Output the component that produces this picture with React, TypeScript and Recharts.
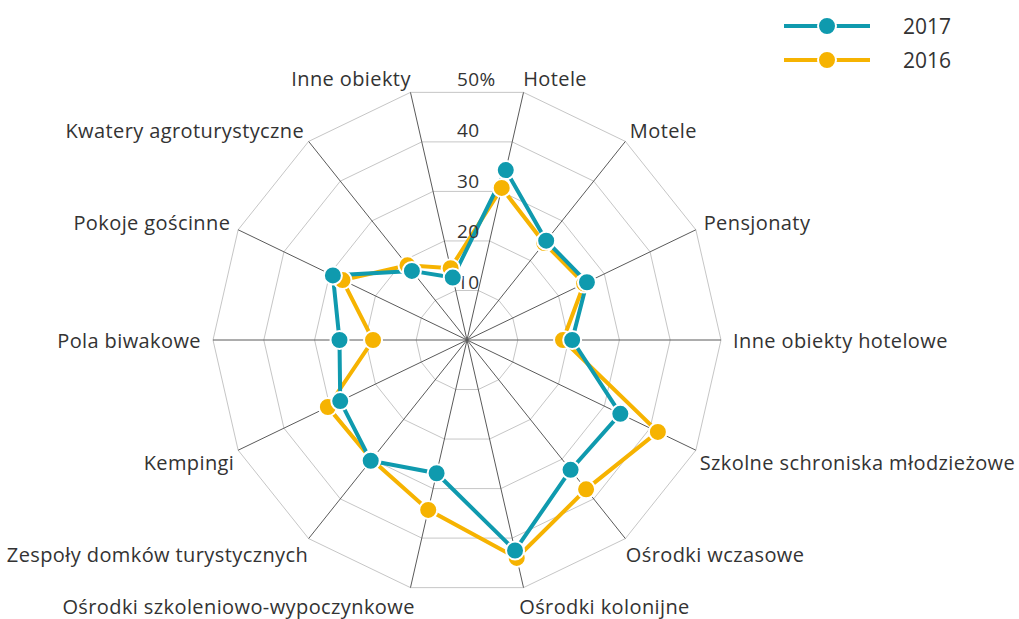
import React from "react";
import {
  Legend,
  PolarAngleAxis,
  PolarGrid,
  PolarRadiusAxis,
  Radar,
  RadarChart,
} from "recharts";

const categories = [
  "Hotele",
  "Motele",
  "Pensjonaty",
  "Inne obiekty hotelowe",
  "Szkolne schroniska młodzieżowe",
  "Ośrodki wczasowe",
  "Ośrodki kolonijne",
  "Ośrodki szkoleniowo-wypoczynkowe",
  "Zespoły domków turystycznych",
  "Kempingi",
  "Pola biwakowe",
  "Pokoje gościnne",
  "Kwatery agroturystyczne",
  "Inne obiekty",
];

const share2017 = [34.3, 25.0, 26.2, 20.7, 33.5, 32.7, 42.5, 26.9, 30.4, 27.7, 25.1, 29.3, 17.4, 12.6];
const share2016 = [30.7, 24.4, 25.6, 18.9, 41.7, 37.6, 44.0, 34.3, 30.1, 30.4, 18.5, 27.2, 18.8, 14.5];

const radiusTicks = [0, 10, 20, 30, 40, 50];

const data = categories.map((name, i) => ({
  name,
  y2017: share2017[i],
  y2016: share2016[i],
}));

const TEAL = "#0f9aae";
const ORANGE = "#f6b301";
const TEXT = "#333333";

const CX = 467;
const CY = 340;
const R = 254;
const STEP = 360 / categories.length;
const START = 90 - STEP / 2;

// labels sit just past the outer ring, pulled a bit toward the vertical middle
const AngleTick = (props: any) => {
  const { payload } = props;
  const rad = (payload.coordinate * Math.PI) / 180;
  const cos = Math.cos(rad);
  const sin = Math.sin(rad);
  const r = R + 12;
  const side = Math.abs(sin) < 0.1 ? 0 : sin > 0 ? 1 : -1;
  const inward = side === 0 ? 0 : side > 0 ? 3 : 7;
  const x = CX + r * cos - Math.sign(cos) * inward;
  const y = CY - r * sin + (side === 0 ? 0 : side > 0 ? -2 : 7);
  const anchor = cos > 0.01 ? "start" : cos < -0.01 ? "end" : "middle";
  return (
    <text
      x={x}
      y={y}
      textAnchor={anchor}
      dominantBaseline="central"
      fill={TEXT}
      fontSize={20}
      letterSpacing={0.4}
    >
      {payload.value}
    </text>
  );
};

const RadiusTick = (props: any) => {
  const { x, y, payload } = props;
  if (payload.value === 0) return null;
  return (
    <text x={x - 10} y={y} fill={TEXT} fontSize={19} letterSpacing={0.4}>
      {payload.value === 50 ? "50%" : payload.value}
    </text>
  );
};

const makeDot = (color: string) => (props: any) => (
  <circle key={props.index} cx={props.cx} cy={props.cy} r={9} fill={color} stroke="#fff" strokeWidth={2} />
);

const renderLegend = (props: any) => {
  const items = [...(props.payload || [])].reverse();
  return (
    <svg width={240} height={80}>
      {items.map((item: any, i: number) => {
        const y = 26 + i * 34;
        return (
          <g key={item.value}>
            <line x1={4} x2={90} y1={y} y2={y} stroke={item.color} strokeWidth={4} />
            <circle cx={47} cy={y} r={9} fill={item.color} stroke="#fff" strokeWidth={2} />
            <text x={123} y={y} dominantBaseline="central" fill={TEXT} fontSize={21}>
              {item.value}
            </text>
          </g>
        );
      })}
    </svg>
  );
};

export default function App() {
  return (
    <div
      style={{
        position: "absolute",
        left: 0,
        top: 0,
        width: 1019,
        height: 619,
        background: "#fff",
        fontFamily: "'Open Sans', sans-serif",
      }}
    >
      <RadarChart
        width={1019}
        height={619}
        data={data}
        cx={CX}
        cy={CY}
        outerRadius={R}
        startAngle={START}
        endAngle={START - 360}
        margin={{ top: 0, right: 0, bottom: 0, left: 0 }}
      >
        <PolarGrid gridType="polygon" radialLines={false} stroke="#c6c6c6" />
        <PolarGrid gridType="polygon" polarRadius={[]} stroke="#5a5a5a" />
        <PolarAngleAxis dataKey="name" tick={AngleTick} tickLine={false} axisLine={false} />
        <PolarRadiusAxis
          angle={90}
          domain={[0, 50]}
          ticks={radiusTicks}
          tick={RadiusTick}
          axisLine={false}
          tickLine={false}
        />
        <Radar
          name="2016"
          dataKey="y2016"
          stroke={ORANGE}
          strokeWidth={4}
          fill="none"
          fillOpacity={0}
          dot={makeDot(ORANGE)}
          isAnimationActive={false}
        />
        <Radar
          name="2017"
          dataKey="y2017"
          stroke={TEAL}
          strokeWidth={4}
          fill="none"
          fillOpacity={0}
          dot={makeDot(TEAL)}
          isAnimationActive={false}
        />
        <Legend
          content={renderLegend}
          wrapperStyle={{ position: "absolute", top: 0, left: 780, width: 240, height: 80 }}
        />
      </RadarChart>
    </div>
  );
}
